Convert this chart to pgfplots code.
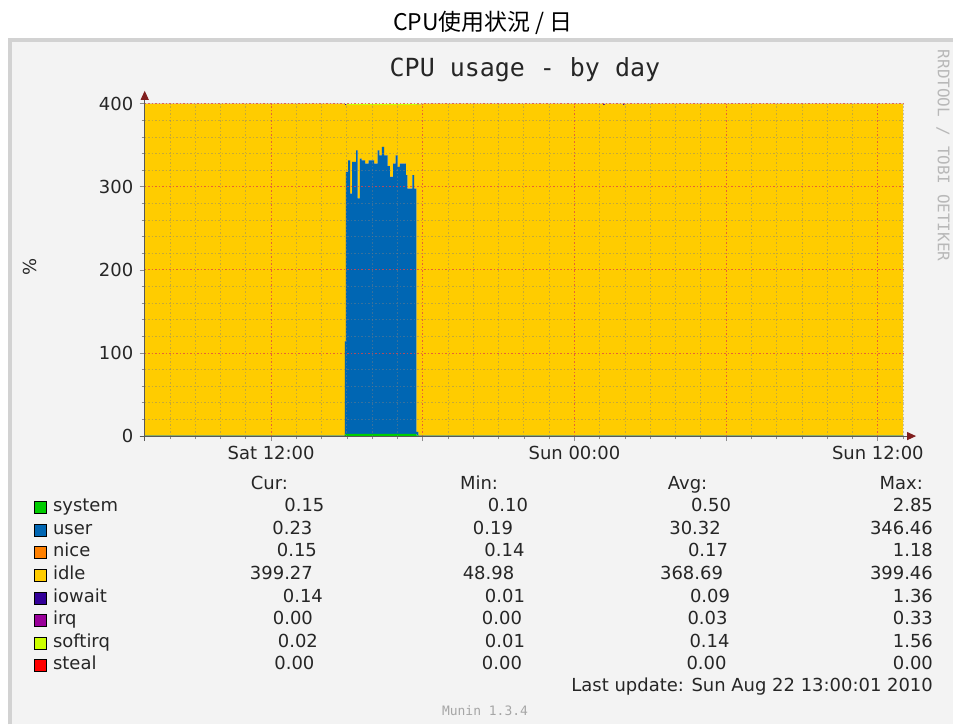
\documentclass[border=0pt]{standalone}
\usepackage{fontspec}
\setmainfont{DejaVu Sans}
\newfontfamily\monof{DejaVu Sans Mono}
\newfontfamily\cjk{Noto Sans CJK JP}
\usepackage{pgfplots}
\pgfplotsset{compat=1.18}
\usepackage{pgfplotstable}
\usetikzlibrary{arrows.meta}

\definecolor{sysc}{HTML}{00CC00}
\definecolor{usrc}{HTML}{0066B3}
\definecolor{nicc}{HTML}{FF8000}
\definecolor{idlc}{HTML}{FFCC00}
\definecolor{iowc}{HTML}{330099}
\definecolor{irqc}{HTML}{990099}
\definecolor{sirqc}{HTML}{CCFF00}
\definecolor{stlc}{HTML}{FF0000}
\definecolor{panelbg}{RGB}{243,243,243}
\definecolor{panelbd}{RGB}{210,210,210}
\definecolor{arrowc}{RGB}{128,30,30}

% hours since Sat 00:00; cpu usage in % (4 cores, stacked)
\pgfplotstableread{
t     sys  usr    nic  idl    iow  sirq
7.00  0.30 0.20   0.15 399.25 0.05 0.05
14.92 2.00 112.00 0.20 283.94 1.36 0.50
14.96 2.80 315.2  0.20 80.2   0.10 1.50
15.05 2.80 329.2  0.20 66.2   0.10 1.50
15.13 2.80 289.2  0.20 106.2  0.10 1.50
15.20 2.80 327.2  0.20 68.2   0.10 1.50
15.36 2.80 341.2  0.20 54.2   0.10 1.50
15.42 2.80 283.2  0.20 112.2  0.10 1.50
15.51 2.80 331.2  0.20 64.2   0.10 1.50
15.58 2.80 329.2  0.20 66.2   0.10 1.50
15.72 2.80 325.2  0.20 70.2   0.10 1.50
15.86 2.80 329.2  0.20 66.2   0.10 1.50
16.08 2.80 325.2  0.20 70.2   0.10 1.50
16.21 2.80 341.2  0.20 54.2   0.10 1.50
16.28 2.80 335.2  0.20 60.2   0.10 1.50
16.38 2.80 345.2  0.20 50.2   0.10 1.50
16.47 2.80 335.2  0.20 60.2   0.10 1.50
16.61 2.80 322.2  0.20 73.2   0.10 1.50
16.70 2.80 309.2  0.20 86.2   0.10 1.50
16.83 2.80 325.2  0.20 70.2   0.10 1.50
16.93 2.80 335.2  0.20 60.2   0.10 1.50
17.00 2.80 321.2  0.20 74.2   0.10 1.50
17.09 2.80 325.2  0.20 70.2   0.10 1.50
17.33 2.80 311.2  0.20 84.2   0.10 1.50
17.39 2.80 295.2  0.20 100.2  0.10 1.50
17.59 2.80 311.2  0.20 84.2   0.10 1.50
17.66 2.80 295.2  0.20 100.2  0.10 1.50
17.75 1.00 4.00   0.15 393.35 0.10 1.40
17.83 0.30 0.20   0.15 398.30 0.05 1.00
17.95 0.30 0.20   0.15 399.25 0.05 0.05
25.12 0.30 0.20   0.15 398.00 1.30 0.05
25.20 0.30 0.20   0.15 399.25 0.05 0.05
25.90 0.30 0.20   0.15 398.00 1.30 0.05
25.98 0.30 0.20   0.15 399.25 0.05 0.05
37.00 0.30 0.20   0.15 399.25 0.05 0.05
}\cpudata

\begin{document}
\begin{tikzpicture}
\fill[white] (0,0) rectangle (955pt,726pt);
\fill[panelbg] (8pt,0) rectangle (955pt,688pt);
\draw[panelbd, line width=4pt] (10pt,0) -- (10pt,686pt) -- (955pt,686pt);

\node[anchor=base, font=\cjk\fontsize{23}{25}\selectfont] at (484pt,695pt) {CPU使用状況 / 日};
\node[anchor=base, font=\monof\fontsize{25}{28}\selectfont, text=black!85] at (526pt,649pt) {CPU usage - by day};
\node[rotate=-90, font=\monof\fontsize{16}{18}\selectfont, text=black!28] at (945pt,570pt) {RRDTOOL / TOBI OETIKER};
\node[rotate=90, font=\fontsize{18}{20}\selectfont, text=black!85] at (30pt,458pt) {\%};

\begin{axis}[
    at={(145pt,289pt)}, anchor=south west,
    scale only axis, width=760pt, height=333pt,
    xmin=7, xmax=37, ymin=0, ymax=400,
    stack plots=y, const plot,
    axis on top,
    axis lines=left,
    axis line style={draw=black!65, line width=1pt},
    x axis line style={-{Triangle[length=9pt,width=8pt,color=arrowc]}, shorten >=-13pt, shorten <=-5pt},
    y axis line style={-{Triangle[length=9pt,width=8pt,color=arrowc]}, shorten >=-13pt, shorten <=-5pt},
    xtick={12,18,24,30,36},
    xticklabels={Sat 12:00,,Sun 00:00,,Sun 12:00},
    minor xtick={7,8,...,37},
    ytick={0,100,200,300,400},
    minor ytick={0,20,...,400},
    grid=both,
    major grid style={draw=red!80, opacity=0.6, dash pattern=on 1.5pt off 2pt, line width=0.9pt},
    minor grid style={draw=black!50, opacity=0.45, dash pattern=on 1.5pt off 2pt, line width=0.9pt},
    tick align=outside,
    major tick length=5pt, minor tick length=3pt,
    every tick/.style={draw=black!45, line width=0.8pt},
    tick label style={font=\fontsize{18}{20}\selectfont, text=black!85},
    yticklabel style={xshift=-3pt},
    xticklabel style={yshift=-2pt},
    /pgf/number format/assume math mode=true,
]
\addplot[fill=sysc, draw=none] table[x=t, y=sys] {\cpudata} \closedcycle;
\addplot[fill=usrc, draw=none] table[x=t, y=usr] {\cpudata} \closedcycle;
\addplot[fill=nicc, draw=none] table[x=t, y=nic] {\cpudata} \closedcycle;
\addplot[fill=idlc, draw=none] table[x=t, y=idl] {\cpudata} \closedcycle;
\addplot[fill=iowc, draw=none] table[x=t, y=iow] {\cpudata} \closedcycle;
\addplot[fill=sirqc, draw=none] table[x=t, y=sirq] {\cpudata} \closedcycle;
\end{axis}

\begin{scope}[font=\fontsize{18}{20}\selectfont, text=black!85]
\node[anchor=base] at (270pt,235pt) {Cur:};
\node[anchor=base] at (480pt,235pt) {Min:};
\node[anchor=base] at (689pt,235pt) {Avg:};
\node[anchor=base east, inner sep=0] at (925pt,235pt) {Max:};
\foreach \i/\col/\nm/\cx/\cv/\mx/\mv/\ax/\av/\xv in {
0/sysc/system/305/0.15/509/0.10/712.5/0.50/2.85,
1/usrc/user/293/0.23/494/0.19/696.5/30.32/346.46,
2/nicc/nice/297.5/0.15/505.5/0.14/709.5/0.17/1.18,
3/idlc/idle/282/399.27/489.5/48.98/693/368.69/399.46,
4/iowc/iowait/303.5/0.14/506/0.01/711.5/0.09/1.36,
5/irqc/irq/293.5/0.00/503/0.00/709/0.03/0.33,
6/sirqc/softirq/298.5/0.02/506/0.01/711/0.14/1.56,
7/stlc/steal/295/0.00/503/0.00/708/0.00/0.00}{
  \pgfmathsetmacro\yb{726-513-22.57*\i}
  \filldraw[fill=\col, draw=black, line width=1pt] (35pt,{(\yb-2)*1pt}) rectangle (47pt,{(\yb+10)*1pt});
  \node[anchor=base west, inner sep=0] at (53pt,\yb pt) {\nm};
  \node[anchor=base, inner sep=0] at (\cx pt,\yb pt) {\cv};
  \node[anchor=base, inner sep=0] at (\mx pt,\yb pt) {\mv};
  \node[anchor=base, inner sep=0] at (\ax pt,\yb pt) {\av};
  \node[anchor=base east, inner sep=0] at (935pt,\yb pt) {\xv};
}
\node[anchor=base east, inner sep=0] at (935pt,33.5pt) {Last update: Sun Aug 22 13:00:01 2010};
\end{scope}
\node[anchor=base, font=\monof\fontsize{13}{15}\selectfont, text=black!35] at (486pt,9pt) {Munin 1.3.4};
\end{tikzpicture}
\end{document}
